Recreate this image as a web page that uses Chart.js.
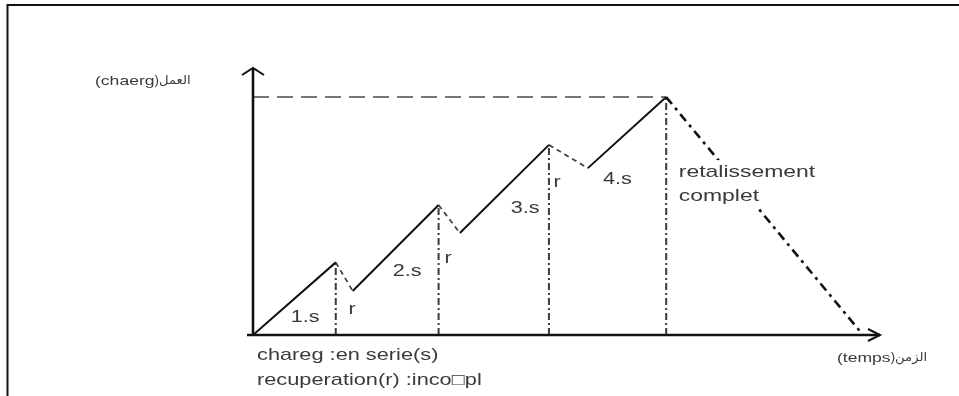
<!DOCTYPE html>
<html>
<head>
<meta charset="utf-8">
<script src="https://cdn.jsdelivr.net/npm/chart.js@4"></script>
<style>
  html, body { margin: 0; padding: 0; background: #fff; }
  #wrap { width: 959px; height: 396px; }
</style>
</head>
<body>
<div id="wrap"><canvas id="chart" width="959" height="396"></canvas></div>
<script>
// points of the load curve (time 0..100, load 0..100)
const peakX = [13.2, 29.6, 47.2, 65.9];
const peakY = [27.2, 48.7, 71.2, 89.1];
const troughX = [15.9, 33.0, 53.4];
const troughY = [16.5, 38.2, 62.5];
const endX = 97.3;

const chargeLabels = ["1.s", "2.s", "3.s", "4.s"];
const recupLabel = "r";
const yTitle = ["(chaerg", ")العمل"];
const xTitle = ["(temps", ")الزمن"];
const noteLines = ["chareg :en serie(s)", "recuperation(r) :inco\u25A1pl"];
const endLabel = ["retalissement", "complet"];

const FONT = '"Liberation Sans", "DejaVu Sans", Arial, sans-serif';
const textColor = "#3a3a3a";

// flatten [a, b] pairs into one dataset, broken with null points
function segments(pairs) {
  const out = [];
  pairs.forEach(([a, b], i) => {
    if (i > 0) out.push({ x: a.x, y: null });
    out.push(a, b);
  });
  return out;
}

const chargePairs = peakX.map((x, i) => [
  i === 0 ? { x: 0, y: 0 } : { x: troughX[i - 1], y: troughY[i - 1] },
  { x: x, y: peakY[i] },
]);
const recupPairs = troughX.map((x, i) => [
  { x: peakX[i], y: peakY[i] },
  { x: x, y: troughY[i] },
]);
const verticalPairs = peakX.map((x, i) => [
  { x: x, y: 0 },
  { x: x, y: peakY[i] },
]);
const last = peakX.length - 1;
const maxPairs = [[{ x: 0, y: peakY[last] }, { x: peakX[last], y: peakY[last] }]];
const descentPairs = [[{ x: peakX[last], y: peakY[last] }, { x: endX, y: 0 }]];

// returns the drawn width
function stretchText(ctx, txt, x, y, size, align, stretch) {
  const k = stretch || 1.35;
  ctx.save();
  ctx.translate(x, y);
  ctx.scale(k, 1);
  ctx.font = size + "px " + FONT;
  ctx.fillStyle = textColor;
  ctx.textAlign = align || "left";
  ctx.textBaseline = "middle";
  ctx.direction = "ltr";
  ctx.fillText(txt, 0, 0);
  const w = ctx.measureText(txt).width * k;
  ctx.restore();
  return w;
}

function twoPartText(ctx, parts, x, y, size) {
  const w = stretchText(ctx, parts[0], x, y, size, "left");
  stretchText(ctx, parts[1], x + w, y, size - 1, "left", 1.1);
}

const diagramPlugin = {
  id: "diagram",
  afterDraw(chart) {
    const ctx = chart.ctx;
    const a = chart.chartArea;
    const sx = chart.scales.x;
    const sy = chart.scales.y;
    const px = (v) => sx.getPixelForValue(v);
    const py = (v) => sy.getPixelForValue(v);

    ctx.save();
    // frame
    ctx.strokeStyle = "#111";
    ctx.lineWidth = 2;
    ctx.beginPath();
    ctx.moveTo(959, 5);
    ctx.lineTo(7.5, 5);
    ctx.lineTo(7.5, 396);
    ctx.stroke();

    // axes
    ctx.lineWidth = 2.6;
    ctx.strokeStyle = "#111";
    ctx.beginPath();
    ctx.moveTo(a.left, a.bottom);
    ctx.lineTo(a.left, a.top);
    ctx.moveTo(a.left - 6, a.bottom);
    ctx.lineTo(a.right, a.bottom);
    ctx.stroke();
    ctx.lineWidth = 2;
    ctx.beginPath();
    ctx.moveTo(a.left - 11, a.top + 7);
    ctx.lineTo(a.left, a.top);
    ctx.lineTo(a.left + 11, a.top + 7);
    ctx.moveTo(a.right - 12, a.bottom - 6);
    ctx.lineTo(a.right, a.bottom);
    ctx.lineTo(a.right - 12, a.bottom + 6);
    ctx.stroke();
    ctx.restore();

    // labels inside the plot
    const sPos = [[8.3, 6.4], [24.6, 23.6], [43.4, 47.2], [58.1, 58.1]];
    chargeLabels.forEach((t, i) => stretchText(ctx, t, px(sPos[i][0]), py(sPos[i][1]), 16, "center"));
    const rPos = [[15.8, 9.4], [31.1, 28.8], [48.5, 56.9]];
    rPos.forEach((p) => stretchText(ctx, recupLabel, px(p[0]), py(p[1]), 16, "center"));

    // end label with white box over the descent line
    const ex = px(67.9);
    ctx.fillStyle = "#fff";
    ctx.fillRect(ex - 2, py(65.5), 150, py(47.5) - py(65.5));
    stretchText(ctx, endLabel[0], ex, py(61.0), 17, "left");
    stretchText(ctx, endLabel[1], ex, py(52.1), 17, "left");

    // axis titles and notes
    twoPartText(ctx, yTitle, 95, a.top + 13, 13);
    twoPartText(ctx, xTitle, 837, a.bottom + 23, 13);
    stretchText(ctx, noteLines[0], a.left + 4, a.bottom + 20, 17, "left", 1.28);
    stretchText(ctx, noteLines[1], a.left + 4, a.bottom + 45, 17, "left", 1.28);
  },
};

const lineBase = {
  showLine: true,
  pointRadius: 0,
  pointHoverRadius: 0,
  spanGaps: false,
  fill: false,
  tension: 0,
};

new Chart(document.getElementById("chart"), {
  type: "scatter",
  data: {
    datasets: [
      { ...lineBase, label: "charge", data: segments(chargePairs), borderColor: "#111", borderWidth: 2 },
      { ...lineBase, label: "recuperation", data: segments(recupPairs), borderColor: "#444", borderWidth: 1.8, borderDash: [5, 4] },
      { ...lineBase, label: "descente", data: segments(descentPairs), borderColor: "#111", borderWidth: 2.6, borderDash: [9, 5, 3, 5] },
      { ...lineBase, label: "verticales", data: segments(verticalPairs), borderColor: "#3c3c3c", borderWidth: 2, borderDash: [7, 3, 2, 3] },
      { ...lineBase, label: "max", data: segments(maxPairs), borderColor: "#777", borderWidth: 2, borderDash: [16, 8] },
    ],
  },
  options: {
    responsive: false,
    animation: false,
    layout: { padding: { left: 253, right: 79, top: 68, bottom: 61 } },
    plugins: {
      legend: { display: false },
      tooltip: { enabled: false },
    },
    scales: {
      x: { type: "linear", min: 0, max: 100, display: false },
      y: { type: "linear", min: 0, max: 100, display: false },
    },
  },
  plugins: [diagramPlugin],
});
</script>
</body>
</html>
